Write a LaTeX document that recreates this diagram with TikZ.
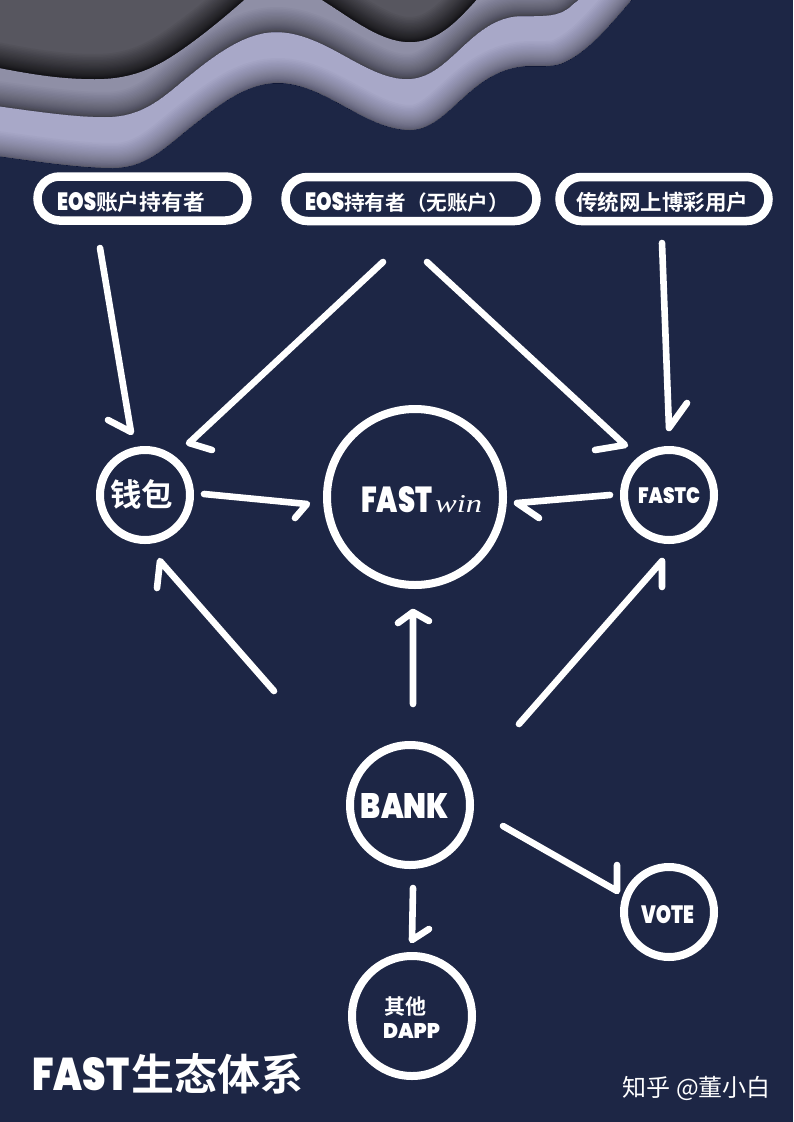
\documentclass[tikz,border=0pt]{standalone}
\usepackage{fontspec}
\setmainfont{Poppins}
\newfontfamily\heavyfont{Poppins Black}
\newfontfamily\cjkbold[BoldFont={Noto Sans CJK SC Bold}]{Noto Sans CJK SC}
\newfontfamily\winfont{Liberation Serif}

\definecolor{navy}{HTML}{1D2645}
\definecolor{layerdark}{HTML}{57565F}
\definecolor{layermid}{HTML}{8F8FA6}
\definecolor{layerlight}{HTML}{A8A8C8}

\tikzset{
  ring/.style = {circle, draw = white, line width = 8pt, inner sep = 0pt},
  pill/.style = {rounded corners = 22pt, draw = white, line width = 8.5pt, inner sep = 0pt},
  flow/.style = {draw = white, line width = 6.6pt, line cap = round, line join = round},
  word/.style = {text = white, inner sep = 0pt}
}

% wave edges, left to right
\newcommand{\edgelight}{(-10,155) .. controls (40,162) and (80,168) .. (113,168)
  .. controls (150,168) and (170,142) .. (200,120)
  .. controls (225,100) and (250,83) .. (278,83)
  .. controls (325,83) and (365,130) .. (410,130)
  .. controls (450,130) and (470,67) .. (530,66)
  .. controls (545,66) and (555,67) .. (565,62)
  .. controls (590,50) and (610,25) .. (640,-10)}
\newcommand{\edgemid}{(-10,105) .. controls (40,112) and (75,117) .. (105,117)
  .. controls (145,117) and (165,95) .. (190,75)
  .. controls (215,55) and (245,32) .. (276,32)
  .. controls (325,32) and (365,79) .. (407,79)
  .. controls (450,79) and (470,18) .. (520,16)
  .. controls (545,16) and (560,17) .. (572,5)
  .. controls (578,0) and (585,-5) .. (590,-10)}
\newcommand{\edgedarkleft}{(-10,66) .. controls (30,74) and (60,79) .. (95,79)
  .. controls (140,79) and (165,62) .. (195,40)
  .. controls (215,25) and (235,8) .. (255,-10)}
\newcommand{\edgedarkright}{(305,-10) .. controls (340,8) and (375,42) .. (410,42)
  .. controls (440,42) and (460,18) .. (485,-10)}

\newcommand{\rimstrokes}[2]{% opacity, edge
  \foreach \i [evaluate = \i as \w using \i*\i/18] in {1,...,30} {
    \draw[black, line width = \w pt, opacity = #1] #2;
  }
}
% heavy latin word squeezed to a given box
\newcommand{\logoword}[3]{\resizebox{#1pt}{#2pt}{\heavyfont #3}}
\newcommand{\cjkword}[2]{{\cjkbold\fontsize{#1}{#1}\selectfont\bfseries #2}}

\begin{document}
\begin{tikzpicture}[x = 1pt, y = -1pt]
\useasboundingbox (0,0) rectangle (793,1122);
\fill[navy] (0,0) rectangle (793,1122);

% background waves
\begin{scope}
  \clip (-10,-10) -- \edgelight -- cycle;
  \fill[layerlight] (-10,-10) rectangle (800,200);
  \rimstrokes{0.018}{\edgelight}
\end{scope}
\begin{scope}
  \clip (-10,-10) -- \edgemid -- cycle;
  \fill[layermid] (-10,-10) rectangle (800,200);
  \rimstrokes{0.024}{\edgemid}
\end{scope}
\begin{scope}
  \clip (-10,-10) -- \edgedarkleft -- cycle;
  \fill[layerdark] (-10,-10) rectangle (300,120);
  \rimstrokes{0.042}{\edgedarkleft}
\end{scope}
\begin{scope}
  \clip \edgedarkright -- cycle;
  \fill[layerdark] (300,-10) rectangle (500,120);
  \rimstrokes{0.042}{\edgedarkright}
\end{scope}

% holders
\node[pill, minimum width = 210pt, minimum height = 44pt] (acct) at (142.5,198.5) {};
\node[pill, minimum width = 251pt, minimum height = 44pt] (plain) at (411,199) {};
\node[pill, minimum width = 209pt, minimum height = 44pt] (web) at (664,199) {};
\node[word, anchor = base west] (acctlabel) at (57,210) {\logoword{39}{18}{EOS}\cjkword{21.7}{账户持有者}};
\node[word, anchor = base west] (plainlabel) at (305,210) {\logoword{39}{18}{EOS}\cjkword{20.6}{持有者（无账户）}};
\node[word, anchor = base west] (weblabel) at (576,210) {\cjkword{21.5}{传统网上博彩用户}};

% circles
\node[ring, minimum size = 90pt] (wallet) at (145,495) {};
\node[ring, minimum size = 176pt] (win) at (415,497) {};
\node[ring, minimum size = 90pt] (fastc) at (669,495) {};
\node[ring, minimum size = 120pt] (bank) at (410,805) {};
\node[ring, minimum size = 90pt] (vote) at (669,912) {};
\node[ring, minimum size = 120pt] (dapp) at (412,1016) {};
\node[word] (walletlabel) at (141.5,494) {\cjkword{31.5}{钱包}};
\node[word, anchor = base west] (winlabel) at (361,512) {\logoword{71}{26}{FAST}\kern3pt\resizebox{47pt}{17pt}{\winfont\itshape win}};
\node[word] (fastclabel) at (669,496) {\logoword{62}{16}{FASTC}};
\node[word] (banklabel) at (405,805.5) {\logoword{88}{25}{BANK}};
\node[word] (votelabel) at (667.5,915) {\logoword{53}{18}{VOTE}};
\node[word] (otherlabel) at (405,1007) {\cjkword{21}{其他}};
\node[word] (dapplabel) at (411.5,1030.5) {\logoword{57}{15}{DAPP}};

% arrows
\coordinate (a1) at (100,248); \coordinate (t1) at (131,432); \coordinate (b1) at (108,420);
\coordinate (a2) at (383,262); \coordinate (t2) at (189,443); \coordinate (b2) at (212,450);
\coordinate (a3) at (427,262); \coordinate (t3) at (625,445); \coordinate (b3) at (595,450);
\coordinate (a4) at (662,243); \coordinate (t4) at (669,428); \coordinate (b4) at (687,403);
\coordinate (a5) at (204,494); \coordinate (t5) at (307,504); \coordinate (b5) at (295,518);
\coordinate (a6) at (610,495); \coordinate (t6) at (517,503); \coordinate (b6) at (539,518);
\coordinate (a7) at (274,691); \coordinate (t7) at (160,561); \coordinate (b7) at (157,588);
\coordinate (a8) at (413,704); \coordinate (t8) at (413,612); \coordinate (b8) at (398,623); \coordinate (c8) at (429,621);
\coordinate (a9) at (519,724); \coordinate (t9) at (662,561); \coordinate (b9) at (662,587);
\coordinate (a10) at (503,826); \coordinate (t10) at (617,891); \coordinate (b10) at (617,865);
\coordinate (a11) at (413,888); \coordinate (t11) at (412,940); \coordinate (b11) at (429,929);
\foreach \n in {1,...,11} {
  \draw[flow] (a\n) -- (t\n) -- (b\n);
}
\draw[flow] (t8) -- (c8);

% caption and credit
\node[word, anchor = base west] (title) at (32,1090) {\logoword{97}{33}{FAST}\kern2pt\cjkword{43}{生态体系}};
\node[word, anchor = east] (credit) at (771,1088) {\cjkbold\fontsize{24}{24}\selectfont 知乎 @董小白};
\end{tikzpicture}
\end{document}
